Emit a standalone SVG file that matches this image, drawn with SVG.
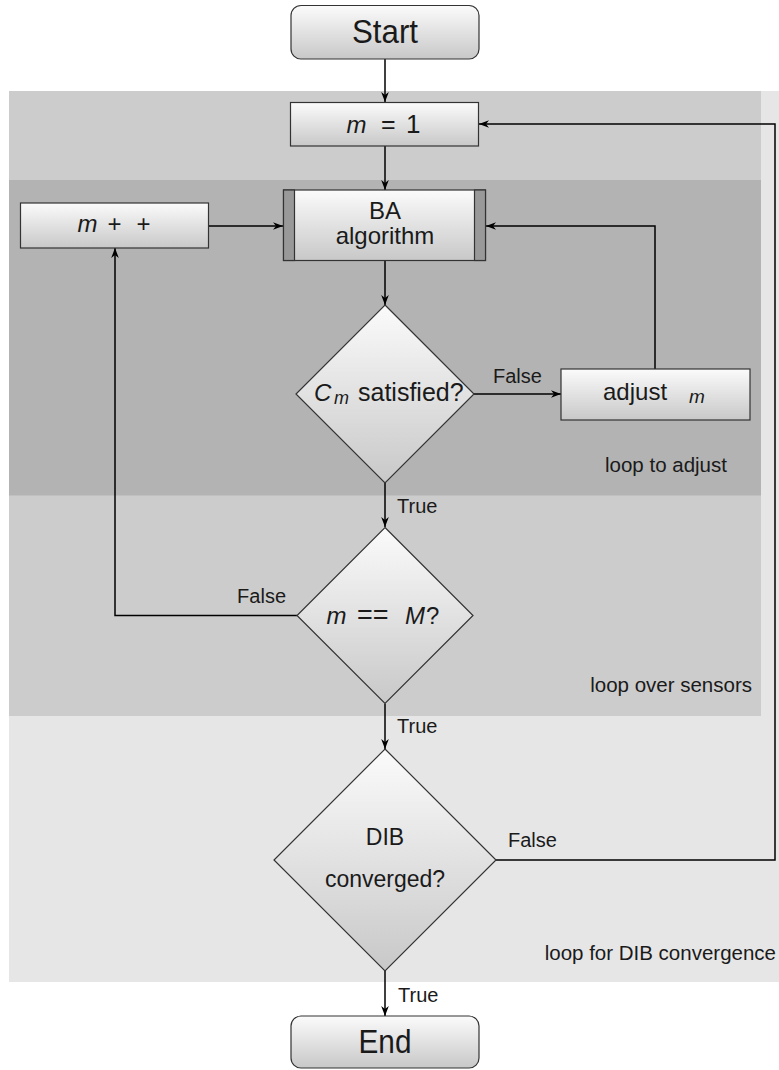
<svg xmlns="http://www.w3.org/2000/svg" width="779" height="1070" viewBox="0 0 779 1070">
<defs>
<linearGradient id="g" x1="0" y1="0" x2="0" y2="1">
<stop offset="0" stop-color="#fbfbfb"/>
<stop offset="1" stop-color="#c8c8c8"/>
</linearGradient>
<marker id="ah" viewBox="0 0 10 10" refX="10" refY="5" markerWidth="10" markerHeight="10" markerUnits="userSpaceOnUse" orient="auto">
<path d="M0,1.2 L10,5 L0,8.8 L3,5 z" fill="#000"/>
</marker>
</defs>
<style>
.n{fill:url(#g);stroke:#333;stroke-width:1.2}
.bar{fill:#999;stroke:#333;stroke-width:1.2}
.c{fill:none;stroke:#000;stroke-width:1.5}
.a{marker-end:url(#ah)}
text{font-family:"Liberation Sans",Arial,sans-serif;fill:#1a1a1a}
.t24{font-size:24px}
.lab{font-size:20px}
.loop{font-size:20.5px}
.big{font-size:33px}
.i{font-style:italic}
</style>
<g id="backgrounds">
<rect x="9" y="91" width="770" height="891" fill="#e6e6e6"/>
<rect x="9" y="91" width="752" height="625" fill="#cccccc"/>
<rect x="9" y="180" width="752" height="315.5" fill="#b3b3b3"/>
</g>
<g id="connectors">
<path class="c a" d="M385,59 V102"/>
<path class="c a" d="M385,146 V190"/>
<path class="c a" d="M208,226 H283"/>
<path class="c a" d="M385,261 V305"/>
<path class="c a" d="M474,394 H561"/>
<path class="c a" d="M655,369 V226 H486"/>
<path class="c a" d="M385,483 V527"/>
<path class="c a" d="M297,615.5 H115 V248"/>
<path class="c a" d="M385,703.5 V749"/>
<path class="c a" d="M496,860 H775 V124 H479"/>
<path class="c a" d="M385,971 V1016"/>
<text class="lab" x="493" y="383">False</text>
<text class="lab" x="397" y="513">True</text>
<text class="lab" x="286" y="603" text-anchor="end">False</text>
<text class="lab" x="397" y="733">True</text>
<text class="lab" x="508" y="847">False</text>
<text class="lab" x="398" y="1002">True</text>
</g>
<g id="start">
<rect class="n" x="291" y="5.5" width="188" height="53.5" rx="10"/>
<text class="big" x="352" y="43" textLength="66" lengthAdjust="spacingAndGlyphs">Start</text>
</g>
<g id="init">
<rect class="n" x="290.5" y="102.5" width="188" height="43.5"/>
<text class="t24"><tspan class="i" x="346.5" y="132.5">m</tspan><tspan x="381" y="132.5" style="font-size:25px">=</tspan><tspan x="406" y="132.5" style="font-size:26px">1</tspan></text>
</g>
<g id="incr">
<rect class="n" x="20.5" y="203" width="188" height="45"/>
<text class="t24"><tspan class="i" x="77.5" y="232">m</tspan><tspan x="107.5" y="232">+</tspan><tspan x="136.5" y="232">+</tspan></text>
</g>
<g id="ba">
<rect class="n" x="283.5" y="190" width="202" height="70.5"/>
<rect class="bar" x="283.5" y="190" width="11" height="70.5"/>
<rect class="bar" x="474.5" y="190" width="11" height="70.5"/>
<text class="t24" x="385" y="219" text-anchor="middle">BA</text>
<text class="t24" x="385" y="243.5" text-anchor="middle">algorithm</text>
</g>
<g id="check-c">
<polygon class="n" points="385,305 474,394 385,483 296,394"/>
<text class="t24"><tspan class="i" x="314" y="401">C</tspan><tspan class="i" x="334" y="404" style="font-size:18px">m</tspan><tspan x="358" y="401" style="font-size:25px">satisfied?</tspan></text>
</g>
<g id="adjust">
<rect class="n" x="561" y="369" width="189" height="51"/>
<text class="t24"><tspan x="603" y="400">adjust</tspan><tspan class="i" x="689" y="403" style="font-size:19px">m</tspan></text>
<text class="loop" x="605" y="472">loop to adjust</text>
</g>
<g id="check-m">
<polygon class="n" points="385,527.5 473,615.5 385,703.5 297,615.5"/>
<text class="t24"><tspan class="i" x="326.5" y="624">m</tspan><tspan x="357" y="624" style="font-size:27px">==</tspan><tspan class="i" x="405" y="624">M</tspan><tspan x="426" y="624">?</tspan></text>
<text class="loop" x="752" y="692" text-anchor="end">loop over sensors</text>
</g>
<g id="check-dib">
<polygon class="n" points="385,749 496,860 385,971 274,860"/>
<text x="385" y="845" text-anchor="middle" style="font-size:23px">DIB</text>
<text x="385" y="887" text-anchor="middle" style="font-size:23px">converged?</text>
<text class="loop" x="776" y="960" text-anchor="end">loop for DIB convergence</text>
</g>
<g id="end">
<rect class="n" x="291" y="1016" width="188" height="52" rx="10"/>
<text class="big" x="358.5" y="1053" textLength="53" lengthAdjust="spacingAndGlyphs">End</text>
</g>
</svg>
